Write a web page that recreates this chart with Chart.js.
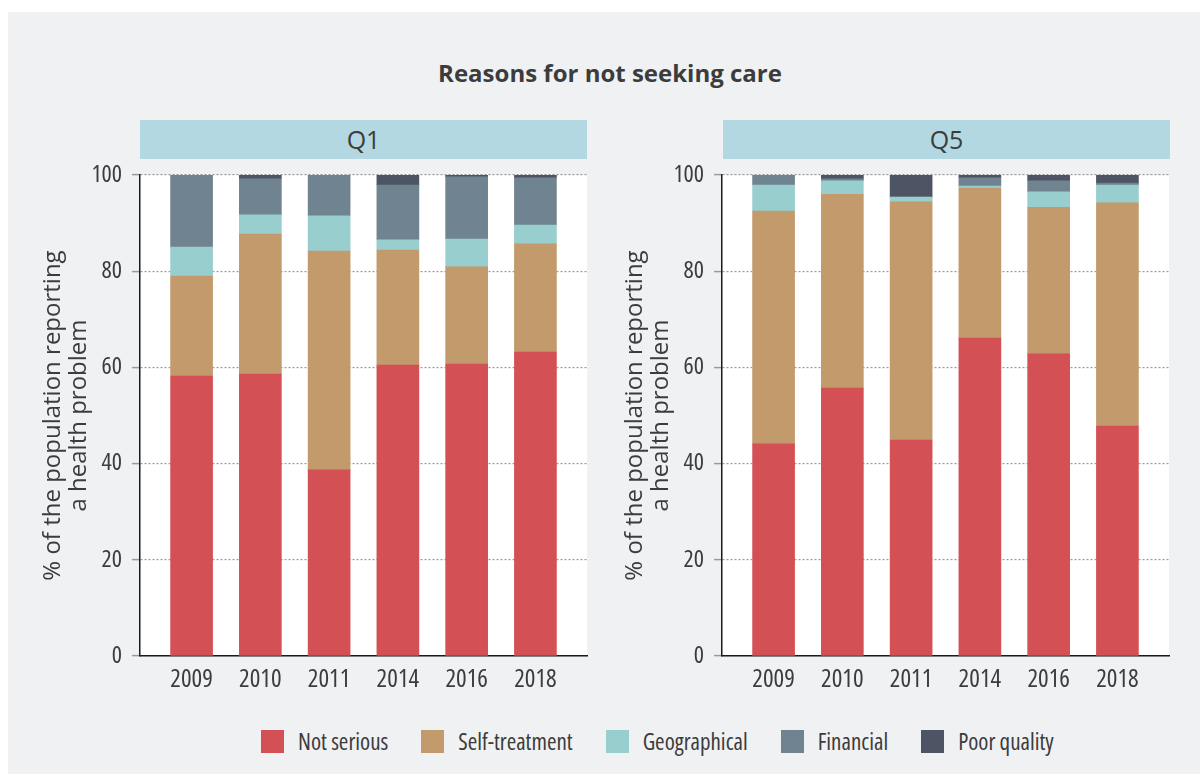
<!doctype html>
<html>
<head>
<meta charset="utf-8">
<script src="https://cdn.jsdelivr.net/npm/chart.js@4"></script>
<style>
* { margin:0; padding:0; box-sizing:border-box; }
html,body { width:1200px; height:774px; overflow:hidden; background:#fff;
  font-family:'Open Sans',sans-serif; font-stretch:75%; color:#3c3c3c; }
#panel { position:absolute; left:8px; top:12px; right:0; bottom:0; background:#f0f1f3; }
#title { position:absolute; left:0; width:1220px; top:56px; text-align:center;
  font-size:24px; font-weight:700; font-stretch:100%; }
.strip { position:absolute; top:120px; height:39px; width:447px; background:#b3d8e2;
  text-align:center; line-height:39px; font-size:25px; font-stretch:90%; }
.box { position:absolute; top:150px; width:600px; height:560px; }
#legend { position:absolute; top:725px; left:261px; display:flex; align-items:center; white-space:nowrap; }
.item { display:flex; align-items:center; margin-right:33px; font-size:23px; flex-shrink:0; }
.sw { width:23px; height:23px; margin-right:14px; }
</style>
</head>
<body>
<div id="panel"></div>
<div id="title">Reasons for not seeking care</div>
<div class="strip" style="left:140px">Q1</div>
<div class="strip" style="left:723px">Q5</div>
<div class="box" style="left:0"><canvas id="c1" width="600" height="560"></canvas></div>
<div class="box" style="left:582px"><canvas id="c5" width="600" height="560"></canvas></div>
<div id="legend"></div>
<script>
const years = ['2009', '2010', '2011', '2014', '2016', '2018'];
const seriesNames = ['Not serious', 'Self-treatment', 'Geographical', 'Financial', 'Poor quality'];
const seriesColors = ['#d35155', '#c39a6b', '#98cecd', '#708390', '#4d5464'];
const yTicks = [0, 20, 40, 60, 80, 100];

// Q1 (poorest quintile)
const notSeriousQ1 = [58.2, 58.6, 38.7, 60.5, 60.7, 63.2];
const selfTreatQ1  = [20.8, 29.1, 45.5, 23.9, 20.2, 22.5];
const geoQ1        = [6.0, 4.0, 7.3, 2.1, 5.8, 3.9];
const financialQ1  = [15.0, 7.5, 8.5, 11.4, 12.9, 9.8];
const poorQualQ1   = [0, 0.8, 0, 2.1, 0.4, 0.6];

// Q5 (richest quintile)
const notSeriousQ5 = [44.1, 55.7, 44.9, 66.1, 62.8, 47.8];
const selfTreatQ5  = [48.4, 40.3, 49.5, 31.2, 30.5, 46.4];
const geoQ5        = [5.4, 2.8, 1.0, 0.4, 3.2, 3.7];
const financialQ5  = [2.1, 0.4, 0, 1.7, 2.3, 0.4];
const poorQualQ5   = [0, 0.8, 4.6, 0.6, 1.2, 1.7];

const TEXT = '#3c3c3c';
const FAM = "'Open Sans'";

// plot area is white on the grey panel
const whiteArea = {
  id: 'whiteArea',
  beforeDraw(chart) {
    const { ctx, chartArea: a } = chart;
    ctx.save();
    ctx.fillStyle = '#fff';
    ctx.fillRect(a.left, a.top, a.right - a.left, a.bottom - a.top);
    ctx.restore();
  }
};

function makeChart(id, series) {
  const datasets = series.map((vals, k) => ({
    label: seriesNames[k],
    data: vals.map((v, i) => ({ x: i, y: v })),
    backgroundColor: seriesColors[k],
    borderWidth: 0,
    barThickness: 42
  }));
  return new Chart(document.getElementById(id), {
    type: 'bar',
    data: { datasets },
    plugins: [whiteArea],
    options: {
      responsive: false, animation: false,
      layout: { padding: { top: 25, right: 13, left: 0, bottom: 0 } },
      plugins: { legend: { display: false }, tooltip: { enabled: false } },
      scales: {
        x: {
          type: 'linear', stacked: true, offset: false, min: -0.75, max: 5.75,
          afterBuildTicks: s => { s.ticks = years.map((y, i) => ({ value: i })); },
          afterFit: s => { s.height = 54; },
          grid: { display: false, drawTicks: false },
          border: { display: true, color: '#1a1a1a', width: 1.5 },
          ticks: { autoSkip: false, maxRotation: 0, padding: 9, color: TEXT,
            font: { family: FAM, size: 25, weight: '400 condensed' }, callback: v => years[v] ?? '' }
        },
        y: {
          stacked: true, min: 0, max: 100,
          afterBuildTicks: s => { s.ticks = yTicks.map(v => ({ value: v })); },
          afterFit: s => { s.width = 140; },
          grid: { color: '#9a9a9a', lineWidth: 1.2, tickLength: 8,
            tickColor: '#9a9a9a', tickWidth: 1.5, tickBorderDash: [] },
          border: { display: true, color: '#1a1a1a', width: 1.5, dash: [2, 2] },
          ticks: { padding: 10, color: TEXT, font: { family: FAM, size: 24, weight: '400 condensed' } },
          title: { display: true, text: ['% of the population reporting', 'a health problem'],
            color: TEXT, font: { family: FAM, size: 24, lineHeight: 1.05 },
            padding: { top: 41, bottom: 0 } }
        }
      }
    }
  });
}

makeChart('c1', [notSeriousQ1, selfTreatQ1, geoQ1, financialQ1, poorQualQ1]);
makeChart('c5', [notSeriousQ5, selfTreatQ5, geoQ5, financialQ5, poorQualQ5]);

document.getElementById('legend').innerHTML = seriesNames.map((n, k) =>
  `<div class="item"><span class="sw" style="background:${seriesColors[k]}"></span>${n}</div>`).join('');
</script>
</body>
</html>
